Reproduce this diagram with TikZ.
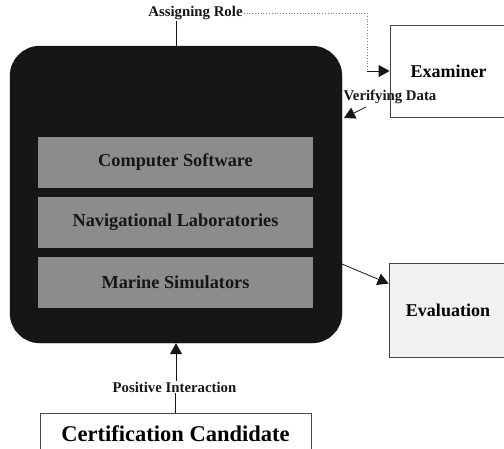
\documentclass[tikz,border=0pt]{standalone}
\usepackage{fontspec}
\setmainfont{Liberation Serif}
\usepackage{xcolor}
\definecolor{Col1}{RGB}{22,22,22}
\definecolor{Col2}{RGB}{140,140,140}
\definecolor{Col3}{RGB}{70,70,70}
\usetikzlibrary{arrows.meta}
\tikzstyle{Panel}=[draw=Col1,fill=Col1,rounded corners=30pt,
minimum width=332pt,minimum height=297pt]
\tikzstyle{Layer}=[fill=Col2,text=Col1,minimum width=275pt,
minimum height=51pt,font=\bfseries\fontsize{18.3}{20}\selectfont]
\tikzstyle{Box}=[draw=Col3,thick,fill=white,minimum width=117pt,
minimum height=92pt,font=\bfseries\fontsize{18}{20}\selectfont]
\tikzstyle{Label}=[inner sep=1pt,text=Col1,font=\bfseries\fontsize{14.8}{16}\selectfont]
\tikzstyle{Edge}=[draw=Col1,line width=0.8pt]
\tikzstyle{DotEdge}=[draw=Col3!70,dotted,line width=0.8pt]
\tikzstyle{Tip}=[-{Triangle[length=11pt,width=12pt]}]

\begin{document}
\begin{tikzpicture}[x=1pt,y=-1pt]
        \useasboundingbox (0,0) rectangle (504,448);
        \node[Panel](Panel)at(176,194.5){};
        \node[Layer](Software)at(175.5,162.5){Computer Software};
        \node[Layer](Labs)at(175.5,222.5){Navigational Laboratories};
        \node[Layer](Sims)at(175.5,282.5){Marine Simulators};
        \node[Box](Examiner)at(448.5,71){Examiner};
        \node[Box,fill=Col2!12,minimum width=118pt,minimum height=94pt](Evaluation)at(448,310){Evaluation};
        \node[Box,minimum width=271pt,minimum height=42pt,
        font=\bfseries\fontsize{22.5}{24}\selectfont](Candidate)at(175.5,434){Certification Candidate};
        \node[Label](role)at(195.5,13){Assigning Role};
        \node[Label](verify)at(390,97){Verifying Data};
        \node[Label](positive)at(174.5,387){Positive Interaction};
        \coordinate(t)at(367,71);
        \coordinate(v)at(366,107);
        \coordinate(w)at(344,118);
        \coordinate(e)at(342,264);
        \draw[Edge](role.south -| Panel.north)--(Panel.north);
        \draw[DotEdge](role.east)-|(t);
        \draw[Edge,Tip](t)--(Examiner.west);
        \draw[Edge,Tip](v)--(w);
        \draw[Edge,Tip](e)--([yshift=-21pt]Evaluation.north west);
        \draw[Edge,Tip](positive.north -| Panel.south)--(Panel.south);
        \draw[Edge](Candidate.north)--(positive.south -| Candidate.north);
    \end{tikzpicture}
\end{document}
